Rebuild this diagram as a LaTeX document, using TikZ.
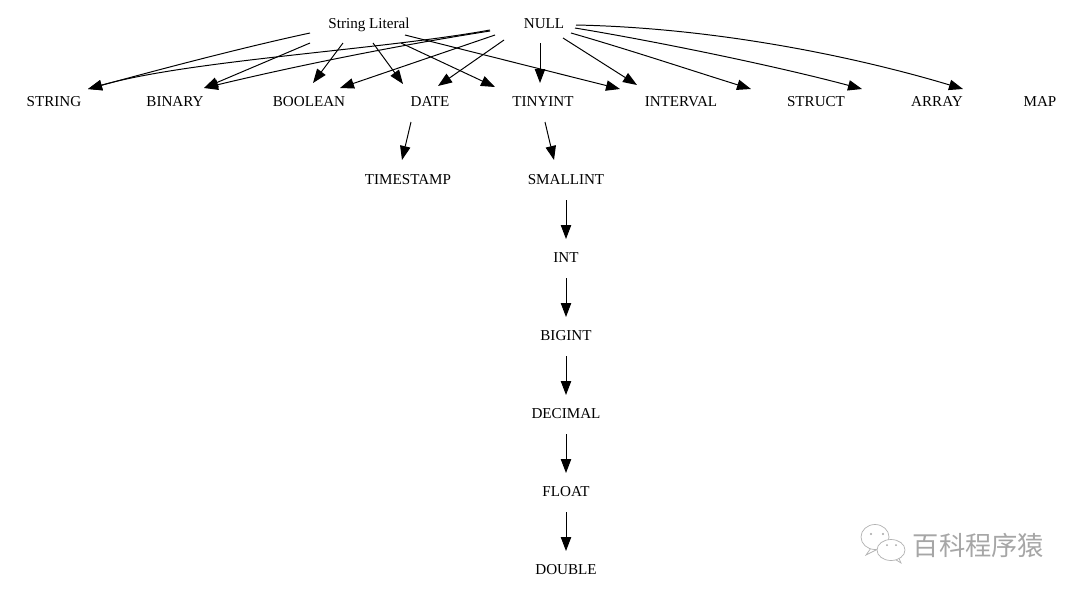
\documentclass[tikz,border=0pt]{standalone}
\usepackage{fontspec}
\setmainfont{Liberation Serif}
\newfontfamily\cjkfont{Noto Sans CJK SC}
\usetikzlibrary{arrows.meta}
\tikzset{
    type/.style={font=\fontsize{10.75pt}{12pt}\selectfont, text height=8.4pt, text depth=0pt, inner sep=0pt},
    dep/.style={line width=0.7pt, -{Triangle[length=0.35cm,width=0.26cm]}},
    bubble/.style={draw=black!30, fill=white, line width=0.5pt},
    eye/.style={fill=black!35}
}
\begin{document}
\begin{tikzpicture}[x=0.025cm, y=-0.025cm]
    \useasboundingbox (0, 0) rectangle (1080, 594);

    \node[type] (literal) at (369, 23) {String Literal};
    \node[type] (null) at (544, 23) {NULL};

    \node[type] (string) at (54, 101) {STRING};
    \node[type] (binary) at (175, 101) {BINARY};
    \node[type] (boolean) at (309, 101) {BOOLEAN};
    \node[type] (date) at (430, 101) {DATE};
    \node[type] (tinyint) at (543, 101) {TINYINT};
    \node[type] (interval) at (681, 101) {INTERVAL};
    \node[type] (struct) at (816, 101) {STRUCT};
    \node[type] (array) at (937, 101) {ARRAY};
    \node[type] (map) at (1040, 101) {MAP};

    \node[type] (timestamp) at (408, 179) {TIMESTAMP};
    \node[type] (smallint) at (566, 179) {SMALLINT};
    \node[type] (int) at (566, 257) {INT};
    \node[type] (bigint) at (566, 335) {BIGINT};
    \node[type] (decimal) at (566, 413) {DECIMAL};
    \node[type] (float) at (566, 491) {FLOAT};
    \node[type] (double) at (566, 569) {DOUBLE};

    \draw[dep] ([shift={(-59, 10)}]literal.center) .. controls (240, 48) and (150, 72) .. ([shift={(34, -12)}]string.center);
    \draw[dep] ([shift={(-59, 20)}]literal.center) -- ([shift={(29, -13)}]binary.center);
    \draw[dep] ([shift={(-26, 20)}]literal.center) -- ([shift={(4, -18)}]boolean.center);
    \draw[dep] ([shift={(4, 20)}]literal.center) -- ([shift={(-27, -17)}]date.center);
    \draw[dep] ([shift={(32, 20)}]literal.center) -- ([shift={(-48, -14)}]tinyint.center);
    \draw[dep] ([shift={(36, 12)}]literal.center) -- ([shift={(-61, -12)}]interval.center);

    \draw[dep] ([shift={(-54, 7)}]null.center) .. controls (380, 50) and (190, 60) .. ([shift={(34, -12)}]string.center);
    \draw[dep] ([shift={(-54, 8)}]null.center) .. controls (400, 45) and (300, 65) .. ([shift={(29, -13)}]binary.center);
    \draw[dep] ([shift={(-49, 12)}]null.center) -- ([shift={(31, -13)}]boolean.center);
    \draw[dep] ([shift={(-40, 17)}]null.center) -- ([shift={(8, -15)}]date.center);
    \draw[dep] ([shift={(-4, 20)}]null.center) -- ([shift={(-3, -18)}]tinyint.center);
    \draw[dep] ([shift={(19, 15)}]null.center) -- ([shift={(-44, -16)}]interval.center);
    \draw[dep] ([shift={(27, 10)}]null.center) .. controls (630, 50) and (690, 70) .. ([shift={(-65, -12)}]struct.center);
    \draw[dep] ([shift={(31, 5)}]null.center) .. controls (660, 42) and (780, 67) .. ([shift={(-75, -12)}]array.center);
    \draw[dep] ([shift={(32, 2)}]null.center) .. controls (720, 28) and (860, 58) .. ([shift={(-77, -12)}]map.center);

    \draw[dep] ([shift={(-19, 21)}]date.center) -- ([shift={(-6, -19)}]timestamp.center);
    \draw[dep] ([shift={(2, 21)}]tinyint.center) -- ([shift={(-12, -19)}]smallint.center);

    \foreach \from/\to in {smallint/int, int/bigint, bigint/decimal, decimal/float, float/double}
        \draw[dep] ([yshift=-21*0.025cm]\from.center) -- ([yshift=18*0.025cm]\to.center);

    \draw[bubble] (866, 555) -- (871, 548) -- (876, 550) -- cycle;
    \draw[bubble] (875, 537) ellipse (14 and 12.5);
    \draw[bubble] (901, 563) -- (893, 558) -- (898, 556) -- cycle;
    \draw[bubble] (891, 550) ellipse (14 and 10.5);
    \fill[eye] (871, 534) circle (1.2);
    \fill[eye] (883, 534) circle (1.2);
    \fill[eye] (887, 545) circle (1);
    \fill[eye] (896, 545) circle (1);
    \node[font=\cjkfont\fontsize{18.7pt}{20pt}\selectfont, text=black!35, inner sep=0pt] (mark) at (978.5, 546) {百科程序猿};
\end{tikzpicture}
\end{document}
